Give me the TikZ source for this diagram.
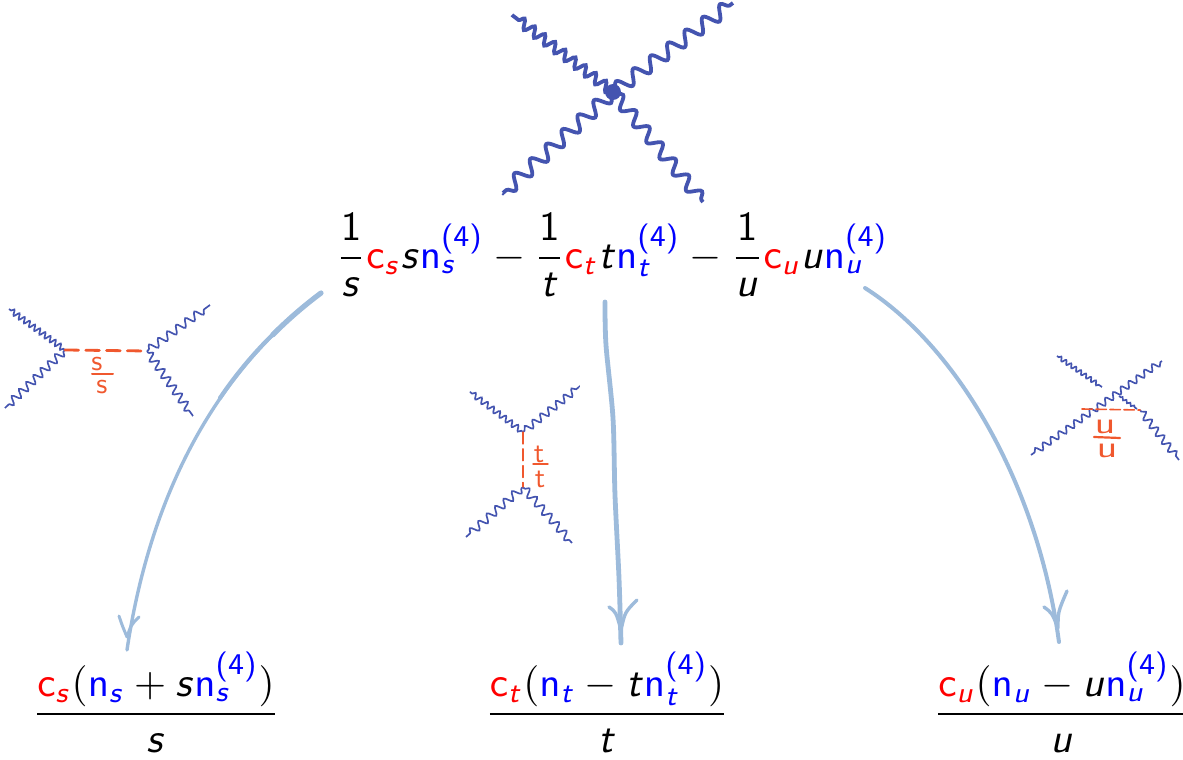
\documentclass[tikz,border=0pt]{standalone}
\usetikzlibrary{decorations.pathmorphing}
\DeclareMathAlphabet{\msf}{OT1}{cmss}{m}{n}
\DeclareMathAlphabet{\msl}{OT1}{cmss}{m}{sl}
\definecolor{photonblue}{HTML}{4454B0}
\definecolor{arrowblue}{HTML}{9DBBDB}
\definecolor{handred}{HTML}{F0582E}
\newcommand{\cc}[1]{\textcolor{red}{\msf{c}_{\msl{#1}}}}
\newcommand{\nn}[1]{\textcolor{blue}{\msf{n}_{\msl{#1}}}}
\newcommand{\nf}[1]{\textcolor{blue}{\msf{n}_{\msl{#1}}^{\mbox{\sffamily\fontsize{7.3}{8}\selectfont (4)}}}}
\newcommand{\ff}[2]{{\displaystyle\frac{#1}{#2}}}
\tikzset{
  eqn/.style={inner sep=0pt,outer sep=0pt,anchor=base,scale=1.03,transform shape},
  wave/.style 2 args={decorate,decoration={snake,segment length=#1pt,amplitude=#2pt,pre length=0.5pt,post length=0.5pt}},
  photon/.style={photonblue,line width=0.95pt},
  sphoton/.style={photonblue,line width=0.42pt},
  hand/.style={handred,line width=0.7pt,line cap=round},
  handtxt/.style={handred,inner sep=0pt,font=\sffamily,scale=0.72,transform shape},
  feynarrow/.style={arrowblue,line width=1pt,line cap=round,line join=round},
}
\begin{document}
\begin{tikzpicture}[x=0.25pt,y=-0.25pt]
\useasboundingbox (0,0) rectangle (1183,760);
% equations
\node[eqn] (top) at (612,268) {$\ff{\msf{1}}{\msl{s}}\cc{s}\msl{s}\nf{s}-\ff{\msf{1}}{\msl{t}}\cc{t}\msl{t}\nf{t}-\ff{\msf{1}}{\msl{u}}\cc{u}\msl{u}\nf{u}$};
\node[eqn] (es) at (156,724.5) {$\ff{\cc{s}(\nn{s}+\msl{s}\nf{s})}{\msl{s}}$};
\node[eqn] (et) at (607,724.5) {$\ff{\cc{t}(\nn{t}-\msl{t}\nf{t})}{\msl{t}}$};
\node[eqn] (eu) at (1062,724.5) {$\ff{\cc{u}(\nn{u}-\msl{u}\nf{u})}{\msl{u}}$};
% top vertex
\coordinate (v) at (613,92);
\coordinate (a1) at (512,15);\coordinate (a2) at (733,3);\coordinate (a3) at (503,193);\coordinate (a4) at (703,202);
\fill[photonblue] (v) circle (8);
\draw[photon,wave={3.2}{1.2}] (v) -- (a1);
\draw[photon,wave={5.4}{1.7}] (v) -- (a2);
\draw[photon,wave={5.4}{1.7}] (v) -- (a3);
\draw[photon,wave={5.2}{1.5}] (v) -- (a4);
% s channel
\coordinate (sl) at (65,350);\coordinate (sr) at (147,351);
\coordinate (s1) at (9,309);\coordinate (s2) at (5,408);\coordinate (s3) at (210,305);\coordinate (s4) at (193,416);
\draw[sphoton,wave={1.6}{0.7}] (sl) -- (s1);
\draw[sphoton,wave={2.5}{1}] (sl) -- (s2);
\draw[sphoton,wave={2.8}{1}] (sr) -- (s3);
\draw[sphoton,wave={2.5}{1}] (sr) -- (s4);
\draw[hand,dash pattern=on 3.4pt off 1.8pt] (sl) -- (sr);
\node[handtxt] (sa) at (97,364) {s};
\draw[hand,line width=0.5pt] (92,374) -- (113,374);
\node[handtxt] (sb) at (102,387) {s};
% t channel
\coordinate (tu) at (523,432);\coordinate (td) at (523,487);
\coordinate (t1) at (470,392);\coordinate (t2) at (579,387);\coordinate (t3) at (466,537);\coordinate (t4) at (572,543);
\draw[sphoton,wave={1.9}{0.7}] (tu) -- (t1);
\draw[sphoton,wave={2.5}{0.9}] (tu) -- (t2);
\draw[sphoton,wave={2.8}{1}] (td) -- (t3);
\draw[sphoton,wave={2.8}{1}] (td) -- (t4);
\draw[hand,line width=0.3pt,dash pattern=on 3pt off 1.2pt] (tu) -- (td);
\node[handtxt] (ta) at (539,454) {t};
\draw[hand,line width=0.35pt] (533,464) -- (548,464);
\node[handtxt] (tb) at (540,479) {t};
% u channel
\coordinate (ua) at (1082,409);\coordinate (ub) at (1140,410);
\coordinate (u1) at (1057,356);\coordinate (u1e) at (1102,387);\coordinate (u2) at (1162,361);\coordinate (u3) at (1031,455);
\coordinate (u4) at (1119,396);\coordinate (u4e) at (1137,409);\coordinate (u5) at (1179,460);
\draw[sphoton,wave={1.5}{0.5}] (u1) -- (u1e);
\draw[sphoton,wave={2.4}{0.8}] (u2) -- (u3);
\draw[sphoton,wave={1.2}{0.3}] (u4) -- (u4e);
\draw[sphoton,wave={2.5}{0.9}] (ub) -- (u5);
\draw[hand,line width=0.4pt,dash pattern=on 2.6pt off 0.9pt] (ua) -- (ub);
\node[handtxt,xscale=1.4,yscale=1.05] (ua2) at (1105,427) {u};
\draw[hand,line width=0.55pt] (1094,437) -- (1120,438);
\node[handtxt,xscale=1.4,yscale=1.05] (ub2) at (1107,451) {u};
% arrows
\coordinate (A1) at (321,293);\coordinate (B1) at (127,650);\coordinate (B1a) at (119,616);\coordinate (B1b) at (139,617);\coordinate (H1) at (127,637);
\coordinate (A2) at (605,302);\coordinate (B2) at (621,643);\coordinate (B2a) at (609,607);\coordinate (B2b) at (637,600);\coordinate (H2) at (621,630);
\coordinate (A3) at (865,288);\coordinate (B3) at (1059,642);\coordinate (B3a) at (1044,607);\coordinate (B3b) at (1067,591);\coordinate (H3) at (1058,628);
\draw[feynarrow,line width=0.85pt] (A1) .. controls (205,380) and (148,510) .. (B1);
\draw[feynarrow,line width=1.05pt] (A1) .. controls (280.4,323.5) and (247,358) .. (220,398);
\draw[feynarrow,line width=1.3pt] (A1) .. controls (303.6,306) and (287.5,320) .. (272.7,334.9);
\draw[feynarrow,line width=0.75pt] (B1a) .. controls (122,625) .. (H1) .. controls (131,625) .. (B1b);
\draw[feynarrow,line width=1.2pt] plot[smooth,tension=0.5] coordinates {(A2) (606,345) (613,418) (615,495) (619,578) (B2)};
\draw[feynarrow,line width=0.85pt] (B2a) .. controls (616,612) .. (H2) .. controls (625,612) .. (B2b);
\draw[feynarrow] (A3) .. controls (955,345) and (1037,480) .. (B3);
\draw[feynarrow,line width=0.85pt] (B3a) .. controls (1052,613) .. (H3) .. controls (1058,612) .. (B3b);
\end{tikzpicture}
\end{document}
